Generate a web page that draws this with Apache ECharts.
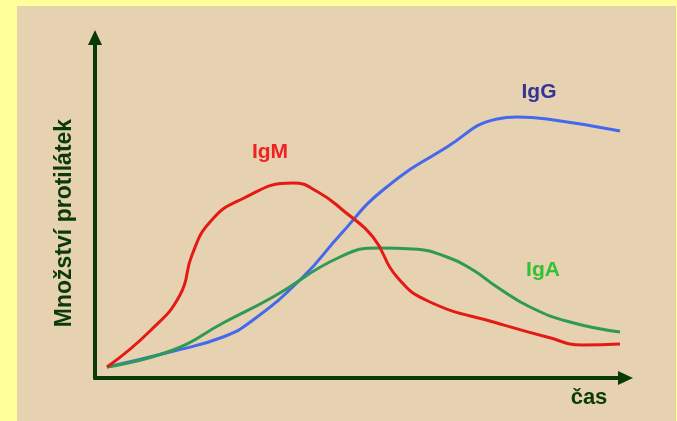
<!DOCTYPE html>
<html><head><meta charset="utf-8">
<script src="https://cdn.jsdelivr.net/npm/echarts@6/dist/echarts.min.js"></script>
<style>html,body{margin:0;padding:0;background:#FFFF99;}#c{width:677px;height:421px;}</style>
</head><body><div id="c"></div>
<script>
// time (arbitrary units) and antibody amount (arbitrary units)
var igmX = [12, 55, 85, 97, 115, 145, 198, 223, 250, 278, 302, 335, 402, 452, 488, 525];
var igmY = [11, 47, 83, 123, 156, 178, 195, 186, 166, 141, 101, 76, 55, 41, 33, 34];
var iggX = [12, 75, 128, 158, 208, 245, 288, 352, 402, 422, 452, 525];
var iggY = [11, 26, 41, 58, 101, 143, 188, 231, 259, 261, 259, 247];
var igaX = [12, 78, 128, 178, 245, 285, 318, 352, 378, 402, 435, 475, 525];
var igaY = [11, 28, 55, 81, 121, 130, 129, 121, 108, 91, 71, 56, 46];
var seriesNames = ['IgM', 'IgG', 'IgA'];
var labelPos = [[175, 226], [444, 286], [448, 108]];
var axisTitles = ['Množství protilátek', 'čas'];

function pairs(xs, ys){ return xs.map(function(x,i){ return [x, ys[i]]; }); }
var colors = ['#E41A14', '#4468EE', '#2F9A55'];
var labelColors = ['#EE2222', '#333399', '#33C033'];
var datas = [pairs(igmX, igmY), pairs(iggX, iggY), pairs(igaX, igaY)];

var chart = echarts.init(document.getElementById('c'));
var axisLine = {show:true, lineStyle:{color:'#0A3A0A', width:4}, symbol:['none','triangle'], symbolSize:[14,15]};
var fam = '"Liberation Sans", Arial, sans-serif';
chart.setOption({
  backgroundColor:'transparent',
  graphic:[
    {type:'rect', left:17, top:6, shape:{width:659, height:415}, style:{fill:'#E6D1B1'}, z:-10},
    {type:'text', x:65, y:223, rotation:Math.PI/2, style:{text:axisTitles[0], font:'bold 23px ' + fam, fill:'#0A3A0A', align:'center', verticalAlign:'middle'}},
    {type:'text', x:589, y:398, style:{text:axisTitles[1], font:'bold 22px ' + fam, fill:'#0A3A0A', align:'center', verticalAlign:'middle'}}
  ],
  grid:{left:95, right:51.5, top:37.5, bottom:43},
  xAxis:{type:'value', min:0, max:530.5, axisLine:axisLine, axisTick:{show:false}, axisLabel:{show:false}, splitLine:{show:false}},
  yAxis:{type:'value', min:0, max:340.5, axisLine:axisLine, axisTick:{show:false}, axisLabel:{show:false}, splitLine:{show:false}},
  series: datas.map(function(d,i){
    return {
      name:seriesNames[i], type:'line', data:d, smooth:0.5, showSymbol:false, z: i===0?3:2,
      lineStyle:{color:colors[i], width:3},
      markPoint:{symbol:'circle', symbolSize:0, data:[{coord:labelPos[i], value:seriesNames[i]}],
        label:{show:true, formatter:seriesNames[i], color:labelColors[i], fontSize:21, fontWeight:'bold', fontFamily:fam, position:'inside'}}
    };
  })
});
</script></body></html>
